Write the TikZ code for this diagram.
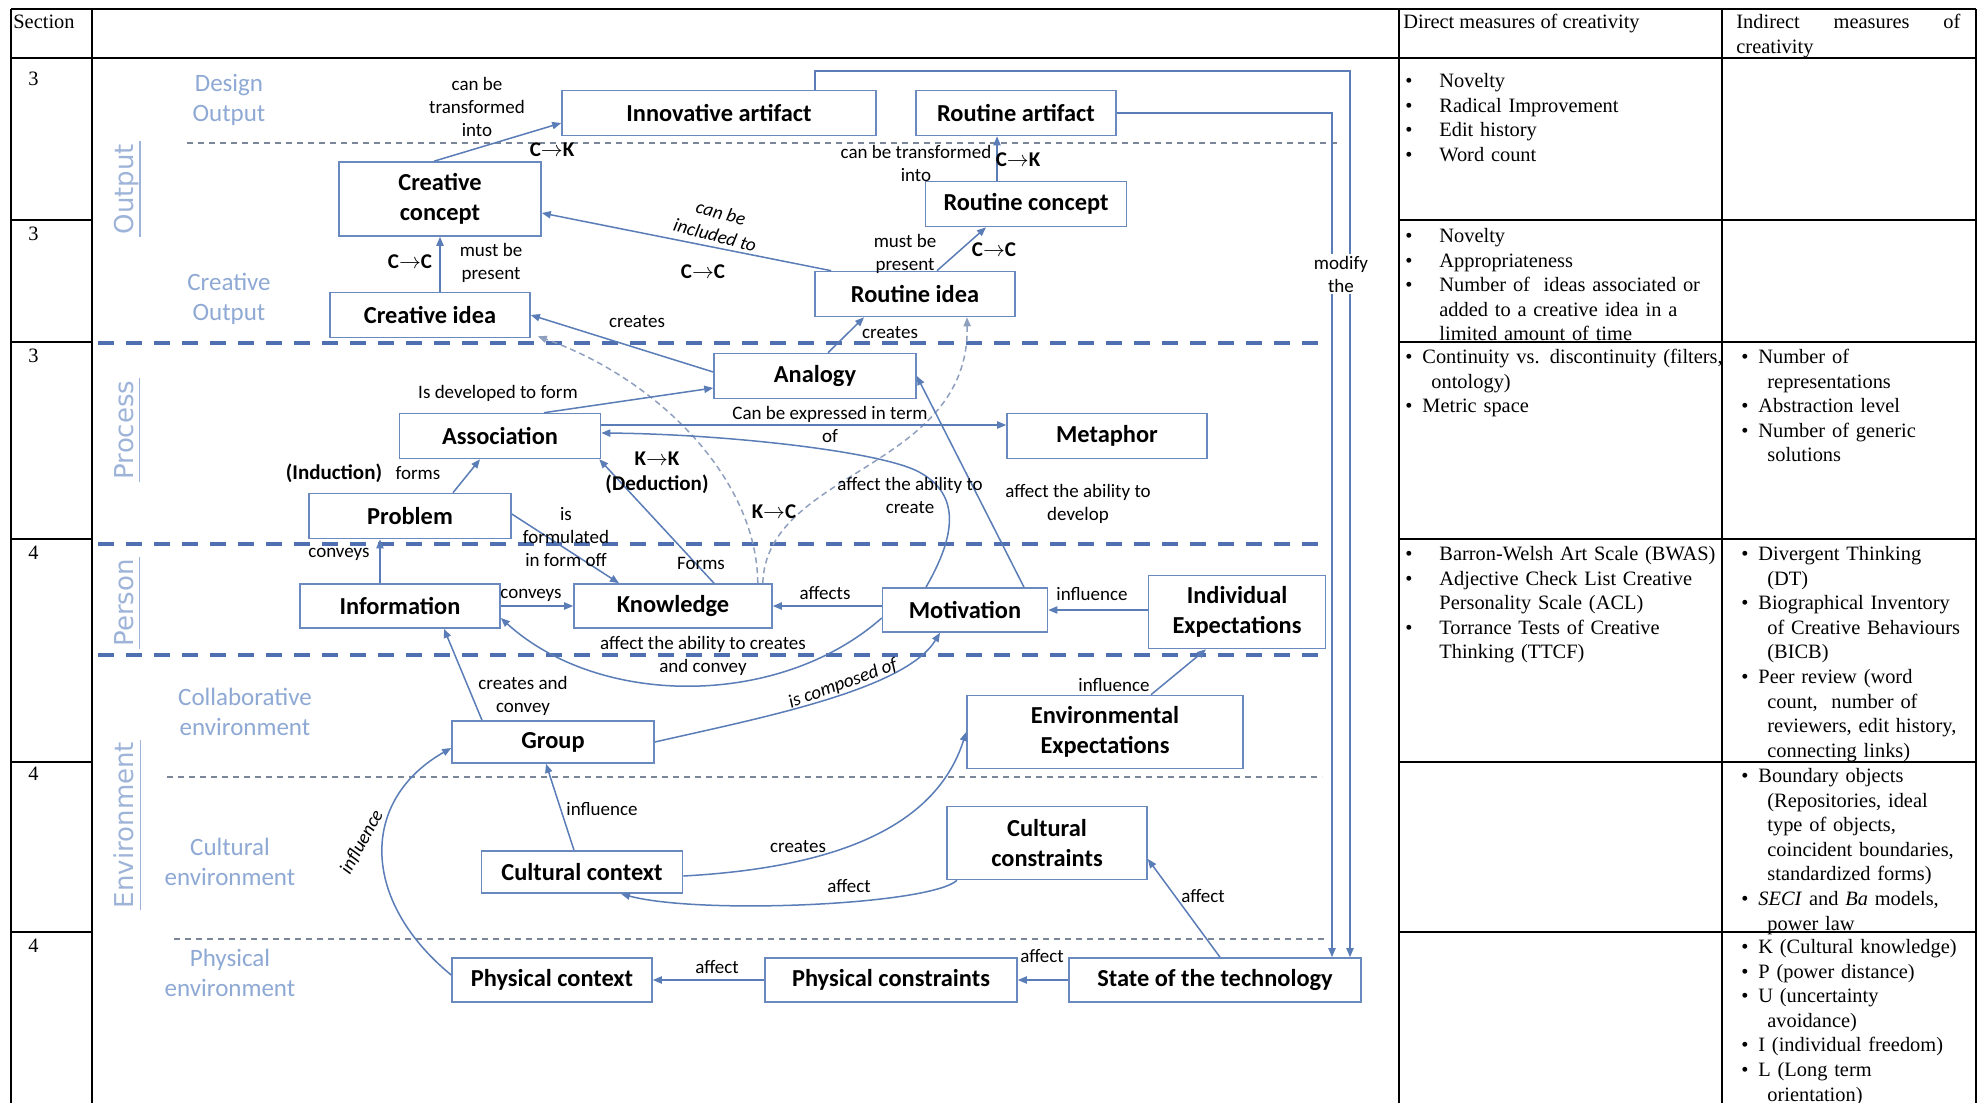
\documentclass[tikz,border=0pt]{standalone}
\usepackage{fontspec}
\setmainfont{Liberation Serif}
\newfontfamily\carl{Carlito}
\newfontfamily\dejav{DejaVu Sans}
\usetikzlibrary{arrows.meta}
\definecolor{cBox}{HTML}{6A89BE}
\definecolor{cLine}{HTML}{5A7DB8}
\definecolor{cDash}{HTML}{8FA0BF}
\definecolor{cThick}{HTML}{4E6FB0}
\definecolor{cThin}{HTML}{7B8799}
\definecolor{cReg}{HTML}{8EA9D4}
\definecolor{cRot}{HTML}{9DB3D8}
\newcommand\bitem[3]{\par\noindent\hangindent=#2\hangafter=1\makebox[#1][l]{\textbullet}\strut#3}
\newcommand\mitem[1]{\bitem{17pt}{17pt}{#1}}
\newcommand\nitem[1]{\bitem{8.5pt}{13pt}{#1}}
\tikzset{
  >={Triangle[length=4.5pt,width=3.6pt]},
  box/.style   ={draw=cBox,line width=0.8pt,fill=white,inner sep=0pt,align=center,
                 minimum height=22.5pt,font=\carl\bfseries\fontsize{12.2}{15}\selectfont},
  tbox/.style  ={box,minimum height=37pt},
  ar/.style    ={->,cLine,line width=0.75pt},
  dar/.style   ={ar,cDash,dash pattern=on 3pt off 2pt},
  lbl/.style   ={font=\carl\fontsize{9.5}{11.5}\selectfont,align=center,inner sep=1pt},
  blbl/.style  ={font=\carl\bfseries\fontsize{10.5}{12.5}\selectfont,align=center,inner sep=1pt},
  ilbl/.style  ={lbl,font=\carl\itshape\fontsize{9.5}{11.5}\selectfont},
  zone/.style  ={text=cReg,font=\carl\fontsize{12.5}{15}\selectfont,align=center},
  side/.style  ={rotate=90,text=cRot,font=\dejav\fontsize{13}{15}\selectfont,inner sep=1pt,text depth=2pt},
  bigdash/.style={cThick,line width=2pt,dash pattern=on 8pt off 6pt},
  thindash/.style={cThin,line width=0.6pt,dash pattern=on 3pt off 2.5pt},
  tline/.style ={line width=1pt,black},
  tcell/.style ={inner sep=0pt,font=\fontsize{10.2}{12.3}\selectfont},
  cell/.style  ={tcell,anchor=north west,align=left},
}
\begin{document}
\begin{tikzpicture}[x=0.5pt,y=-0.5pt]
\useasboundingbox (0,0) rectangle (1982,1103);
\fill[white] (0,0) rectangle (1982,1103);

% table
\draw[tline] (11,9) -- (1976,9) (11,58) -- (1976,58);
\foreach \x in {11,92,1399,1722,1976} \draw[tline] (\x,9) -- (\x,1103);
\foreach \y in {220,342,539,762,932} {
  \draw[tline] (11,\y) -- (92,\y);
  \draw[tline] (1399,\y) -- (1976,\y);
}
\node[tcell,anchor=base west] (sec) at (13,28) {Section};
\foreach \n/\y [count=\i] in {3/85,3/240,3/362,4/559,4/780,4/952}
  \node[tcell,anchor=base west] (s\i) at (28,\y) {\n};
\node[tcell,anchor=base west] (dhead) at (1403,28.5) {Direct measures of creativity};
\node[cell,text width=112pt,align=justify] (ihead) at (1736,11) {\strut Indirect measures of \mbox{creativity}\par};

\node[cell,text width=170pt] (d1) at (1405,62.5) {\mitem{Novelty}\mitem{Radical Improvement}\mitem{Edit history}\mitem{Word count}\par};
\node[cell,text width=170pt] (d2) at (1405,217.5) {\mitem{Novelty}\mitem{Appropriateness}\mitem{Number of \ ideas associated or\newline added to a creative idea in a\newline limited amount of time}\par};
\node[cell,text width=170pt] (d3) at (1405,338.5) {\nitem{Continuity vs. discontinuity (filters,\newline ontology)}\nitem{Metric space}\par};
\node[cell,text width=170pt] (d4) at (1405,535.5) {\mitem{Barron-Welsh Art Scale (BWAS)}\mitem{Adjective Check List Creative\newline Personality Scale (ACL)}\mitem{Torrance Tests of Creative\newline Thinking (TTCF)}\par};
\node[cell,text width=125pt] (i3) at (1741,338.5) {\nitem{Number of\newline representations}\nitem{Abstraction level}\nitem{Number of generic\newline solutions}\par};
\node[cell,text width=125pt] (i4) at (1741,535.5) {\nitem{Divergent Thinking\newline (DT)}\nitem{Biographical Inventory\newline of Creative Behaviours\newline (BICB)}\nitem{Peer review (word\newline count, \ number of\newline reviewers, edit history,\newline connecting links)}\par};
\node[cell,text width=125pt] (i5) at (1741,757.5) {\nitem{Boundary objects\newline (Repositories, ideal\newline type of objects,\newline coincident boundaries,\newline standardized forms)}\nitem{\textit{SECI} and \textit{Ba} models,\newline power law}\par};
\node[cell,text width=125pt] (i6) at (1741,928.5) {\nitem{K (Cultural knowledge)}\nitem{P (power distance)}\nitem{U (uncertainty\newline avoidance)}\nitem{I (individual freedom)}\nitem{L (Long term\newline orientation)}\par};

% layers
\draw[thindash] (187,143) -- (1341,143);
\draw[bigdash] (98,343) -- (1322,343);
\draw[bigdash] (98,544) -- (1322,544);
\draw[bigdash] (98,655) -- (1322,655);
\draw[thindash] (167,777) -- (1322,777);
\draw[thindash] (174,939) -- (1325,939);

\node[zone] (zdes) at (229,100) {Design\\Output};
\node[zone] (zcre) at (229,299) {Creative\\Output};
\node[zone] (zcol) at (245,712) {Collaborative\\environment};
\node[zone] (zcul) at (230,862) {Cultural\\environment};
\node[zone] (zphy) at (230,973) {Physical\\environment};
\node[side] (vout) at (126,189) {Output};
\node[side] (vpro) at (126,430) {Process};
\node[side] (vper) at (126,603) {Person};
\node[side] (venv) at (126,825) {Environment};
\foreach \v in {vout,vpro,vper,venv}
  \draw[cRot,line width=0.6pt] (\v.south west) -- (\v.south east);

% boxes
\node[box,minimum width=157pt] (innov) at (719,113) {Innovative artifact};
\node[box,minimum width=100pt] (rart) at (1016,113) {Routine artifact};
\node[tbox,minimum width=101pt] (cconc) at (440,199) {Creative\\concept};
\node[box,minimum width=100.5pt] (rconc) at (1026,204) {Routine concept};
\node[box,minimum width=100pt] (cidea) at (430,315) {Creative idea};
\node[box,minimum width=100pt] (ridea) at (915,294) {Routine idea};
\node[box,minimum width=101pt] (analogy) at (815,376) {Analogy};
\node[box,minimum width=100.5pt] (assoc) at (500,436) {Association};
\node[box,minimum width=100pt] (metaphor) at (1107,436) {Metaphor};
\node[box,minimum width=101pt] (problem) at (410,516) {Problem};
\node[box,minimum width=100pt,minimum height=22pt] (info) at (400,606) {Information};
\node[box,minimum width=99pt,minimum height=22pt] (knowledge) at (673,606) {Knowledge};
\node[box,minimum width=82.5pt,minimum height=22pt] (motivation) at (965,610) {Motivation};
\node[tbox,minimum width=88.5pt,minimum height=36.5pt] (indexp) at (1237,612) {Individual\\Expectations};
\node[box,minimum width=101pt,minimum height=21pt] (group) at (553,742) {Group};
\node[tbox,minimum width=138pt,minimum height=36.5pt] (envexp) at (1105,732) {Environmental\\Expectations};
\node[box,minimum width=100.5pt,minimum height=21pt] (cultctx) at (582,872) {Cultural context};
\node[tbox,minimum width=100pt,minimum height=36.5pt] (cultcon) at (1047,843) {Cultural\\constraints};
\node[box,minimum width=100pt,minimum height=22pt] (physctx) at (552,980) {Physical context};
\node[box,minimum width=126pt,minimum height=22pt] (physcon) at (891,980) {Physical constraints};
\node[box,minimum width=146pt,minimum height=22pt] (state) at (1215,980) {State of the technology};

% links
\draw[ar] ([xshift=-3pt]cconc.north) -- ([yshift=-5pt]innov.west);
\draw[ar] ([xshift=-14.5pt]rconc.north) -- ([xshift=-14.5pt]rconc.north |- rart.south);
\draw[ar] (cidea.north -| cconc.south) -- (cconc.south);
\draw[ar] ([xshift=11pt]ridea.north) -- ([xshift=-20pt]rconc.south);
\draw[ar] ([xshift=8.5pt]ridea.north west) -- ([yshift=-7pt]cconc.east);
\draw[ar] ([yshift=2pt]analogy.west) -- (cidea.east);
\draw[ar] ([xshift=6.5pt]analogy.north) -- ([xshift=-25.5pt]ridea.south);
\draw[dar] ([xshift=-7.5pt]knowledge.north east) .. controls (757,480) and (660,380) .. ([xshift=3.5pt,yshift=1pt]cidea.south east);
\draw[dar] ([xshift=-5pt]knowledge.north east) .. controls (766,470) and (970,470) .. ([xshift=26pt]ridea.south);
\draw[ar] ([xshift=22pt]assoc.north) -- ([yshift=-6pt]analogy.west);
\draw[ar] ([yshift=5.5pt]assoc.east) -- ([yshift=5.5pt]assoc.east -| metaphor.west);
\draw[ar] ([xshift=-19.5pt]motivation.north) .. controls (950,545) and (968,495) .. (915,470)
          .. controls (870,450) and (720,434) .. ([yshift=1.5pt]assoc.east);
\draw[ar] ([xshift=29.5pt]motivation.north) -- (analogy.east);
\draw[ar] ([xshift=21.5pt]problem.north) -- ([xshift=-10pt]assoc.south);
\draw[ar] ([yshift=1pt]problem.east) -- ([xshift=-27pt]knowledge.north);
\draw[ar] ([xshift=20.5pt]knowledge.north) -- ([xshift=-1pt]assoc.south east);
\draw[ar] ([xshift=-10pt]info.north) -- ([xshift=-10pt]info.north |- problem.south);
\draw[ar] (info.east) -- (knowledge.west);
\draw[ar] (knowledge.east -| motivation.west) -- (knowledge.east);
\draw[ar] (indexp.west |- motivation.east) -- (motivation.east);
\draw[ar] ([yshift=-4pt]motivation.west) .. controls (780,708) and (600,708) .. ([yshift=-6pt]info.east);
\draw[ar] ([xshift=-35.5pt]group.north) -- ([xshift=22pt]info.south);
\draw[ar] (group.east) .. controls (760,718) and (905,690) .. ([xshift=-12.5pt]motivation.south);
\draw[ar] ([xshift=23pt]envexp.north) -- ([xshift=-15.5pt]indexp.south);
\draw[ar] ([yshift=2.5pt]physctx.west) .. controls (360,900) and (360,800) .. ([yshift=-3pt]group.west);
\draw[ar] ([xshift=-4pt]cultctx.north) -- ([xshift=-3.5pt]group.south);
\draw[ar] ([yshift=-2pt]cultctx.east) .. controls (830,868) and (935,830) .. (envexp.west);
\draw[ar] ([xshift=-45pt]cultcon.south) .. controls (930,905) and (700,915) .. ([xshift=19.5pt]cultctx.south);
\draw[ar] ([xshift=2.5pt]state.north) -- ([yshift=-8pt]cultcon.east);
\draw[ar] (state.west) -- (physcon.east);
\draw[ar] (physcon.west) -- (physctx.east);
\coordinate (fb1) at (1350,71);
\coordinate (fb2) at (1332,113);
\draw[ar] ([xshift=48pt]innov.north) |- (fb1) -- (fb1 |- state.north);
\draw[ar] (rart.east) -- (fb2) -- (fb2 |- state.north);

% labels
\node[lbl] (l1) at (477,107) {can be\\transformed\\into};
\node[blbl] (l2) at (552,150) {C$\to$K};
\node[lbl] (l3) at (916,163) {can be transformed\\into};
\node[blbl] (l4) at (1018,160) {C$\to$K};
\node[lbl] (l5) at (491,263) {must be\\present};
\node[blbl] (l6) at (410,262) {C$\to$C};
\node[lbl] (l7) at (905,254) {must be\\present};
\node[blbl] (l8) at (994,250) {C$\to$C};
\node[ilbl,rotate=-15] (l9) at (718,224) {can be\\included to};
\node[blbl] (l10) at (703,272) {C$\to$C};
\node[lbl] (l11) at (637,322) {creates};
\node[lbl] (l12) at (890,333) {creates};
\node[lbl] (l13) at (498,393) {Is developed to form};
\node[lbl] (l14) at (830,424) {Can be expressed in term\\of};
\node[lbl] (l15) at (910,495) {affect the ability to\\create};
\node[lbl] (l16) at (1078,504) {affect the ability to\\develop};
\node[blbl] (l17) at (334,473) {(Induction)};
\node[lbl] (l18) at (418,473) {forms};
\node[blbl] (l19) at (657,473) {K$\to$K\\(Deduction)};
\node[lbl] (l20) at (566,537) {is\\formulated\\in form off};
\node[lbl] (l21) at (701,563) {Forms};
\node[blbl] (l22) at (774,512) {K$\to$C};
\node[lbl] (l23) at (339,554) {conveys};
\node[lbl] (l24) at (531,595) {conveys};
\node[lbl] (l25) at (825,593) {affects};
\node[lbl] (l26) at (1092,594) {influence};
\node[lbl] (l27) at (703,656) {affect the ability to creates\\and convey};
\node[lbl] (l28) at (523,696) {creates and\\convey};
\node[ilbl,rotate=20] (l29) at (843,684) {is composed of};
\node[lbl] (l30) at (1114,685) {influence};
\node[ilbl,rotate=61] (l31) at (362,842) {influence};
\node[lbl] (l32) at (602,809) {influence};
\node[lbl] (l33) at (798,847) {creates};
\node[lbl] (l34) at (849,886) {affect};
\node[lbl] (l35) at (1203,896) {affect};
\node[lbl] (l36) at (1042,956) {affect};
\node[lbl] (l37) at (717,967) {affect};
\node[lbl,fill=white] (l38) at (1341,274) {modify\\the};
\end{tikzpicture}
\end{document}
